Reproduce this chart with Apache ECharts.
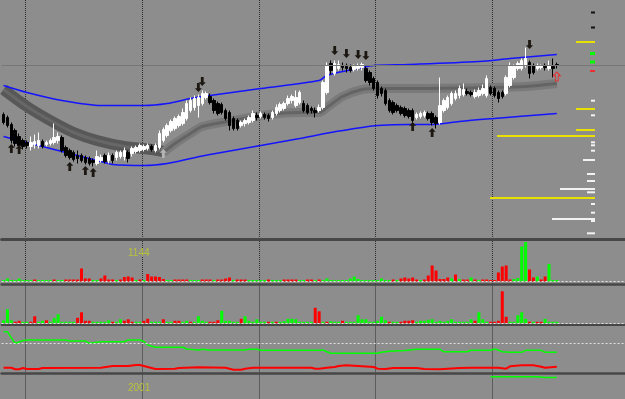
<!DOCTYPE html>
<html>
<head>
<meta charset="utf-8">
<script src="https://cdn.jsdelivr.net/npm/echarts@6.0.0/dist/echarts.min.js"></script>
<style>
  html, body { margin: 0; padding: 0; background: #8d8d8d; }
  #chart { width: 625px; height: 399px; }
</style>
</head>
<body>
<div id="chart"></div>
<script>
// bar slots on the time axis (the last ones are empty space on the right)
const bars = [];
for (let i = 0; i < 160; i++) bars.push(String(i));

// [open, close, low, high]
const candles = [
  [125,117,115,127],[122,114,112,124],[115,99,96,117],[109,96,93,111],[103,94,91,106],
  [99,93,90,101],[97,94,91,99],[93,97,89,103],[95,98,91,105],[94,99,91,107],
  [98,93,91,100],[95,97,93,99],[96,99,94,101],[97,102,95,116],[99,103,96,107],
  [102,89,87,104],[92,84,82,94],[89,82,80,91],[87,80,78,89],[84,81,76,89],
  [84,79,77,86],[82,77,75,84],[81,76,74,83],[79,77,73,81],[76,83,74,89],
  [79,82,77,85],[84,78,76,86],[79,84,76,87],[84,79,76,86],[82,87,79,89],
  [83,87,81,89],[83,89,79,92],[87,81,77,89],[86,91,83,93],[88,92,86,94],
  [89,94,87,96],[90,93,88,95],[91,94,89,96],[93,90,88,95],[89,94,87,96],
  [92,106,90,109],[99,110,97,112],[104,114,102,116],[109,118,107,120],[111,121,109,123],
  [114,123,112,125],[116,127,114,131],[121,136,119,139],[129,139,127,142],[132,141,129,144],
  [134,142,122,145],[136,146,134,149],[142,146,140,148],[143,137,135,146],[139,129,126,141],
  [136,126,124,138],[135,127,125,137],[129,121,119,131],[127,114,109,129],[121,111,109,123],
  [119,111,109,121],[114,117,112,119],[116,119,113,121],[117,122,115,124],[119,126,117,129],
  [124,122,119,127],[123,126,121,128],[125,122,120,127],[124,121,118,126],[122,127,120,129],
  [126,132,124,135],[129,135,127,137],[131,136,129,138],[136,141,134,144],[139,143,136,145],
  [134,142,132,149],[137,147,135,149],[136,129,127,139],[134,127,125,136],[131,129,126,133],
  [129,127,122,132],[129,132,127,135],[132,157,130,159],[147,174,145,177],[176,169,165,179],
  [166,176,164,179],[171,175,169,179],[174,172,169,177],[173,171,167,176],[172,169,167,175],
  [170,173,168,175],[171,174,169,176],[172,175,169,177],[171,159,157,173],[167,157,154,169],
  [161,151,149,163],[157,144,141,159],[151,146,143,153],[149,136,134,151],[139,129,127,141],
  [137,127,125,139],[134,129,127,136],[132,126,124,134],[131,124,122,133],[129,123,121,131],
  [129,119,115,131],[122,125,120,127],[123,126,121,128],[124,127,122,129],[126,121,119,128],
  [126,117,114,128],[122,116,111,124],[117,134,115,162],[129,139,127,141],[132,142,130,144],
  [136,146,134,148],[141,146,139,149],[144,151,141,154],[145,150,143,156],[148,146,144,151],
  [147,145,143,149],[143,147,141,150],[144,149,142,152],[146,151,144,155],[144,161,142,164],
  [152,146,144,154],[151,144,142,153],[147,141,137,149],[147,143,141,149],[146,162,144,164],
  [154,174,152,177],[162,173,160,175],[171,176,169,178],[171,179,169,181],[174,181,172,192],
  [177,166,161,179],[174,167,165,176],[171,174,169,176],[172,174,170,175],[173,172,169,176],
  [171,174,169,179],[173,171,162,181],[175,174,171,177]
];

// moving-average ribbon, [bar, price]
const ribbonOld = [[0,150],[6,133],[12,119],[18,107],[24,99],[31,93],[38,90],[41,88]];
const ribbonNew = [[41,87],[44,96],[48,106],[51,113],[59,119],[68,125],[76,127],[81,127],
  [83,132],[87,143],[92,150],[96,151],[104,151],[126,152],[134,153],[142,156]];

// envelope channel, [bar, price]
const upperBand = [[0,154],[6,147],[15,139],[25,134],[36,134],[42,136],[48,141],[53,144],
  [66,151],[81,159],[83,164],[92,172],[95,174],[104,175],[122,178],[130,181],[142,185]];
const lowerBand = [[0,103],[6,97],[15,88],[25,78],[28,75],[36,74],[42,76],[48,81],[53,85],
  [66,94],[76,101],[84,107],[92,112],[96,114],[104,115],[110,115],[117,118],[126,121],[142,126]];

// signal arrows, [bar, price]
const buySignals = [[2,91],[4,90],[17,73],[21,69],[23,67],[105,113],[110,107]];
const buyPending = [[41,86]];
const sellSignals = [[50,152],[51,158],[85,189],[88,186],[91,185],[93,184],[135,195]];
const lastSignal = [[142,163]];

// levels on the right, [length, price]
const yellowLevels = [[19,197.5],[19,130.5],[19,109.5],[98,103.5],[105,41.5]];
const whiteLevels = [[4,138.8],[4,124.2],[4,97.2],[4,94.2],[4,88.8],[12,79.5],[8,65.5],[8,58.5],
  [35,50.5],[8,47.2],[4,35.5],[4,26.8],[43,20.5],[4,18.5],[8,6.2]];
const blackLevels = [[4,227],[4,212]];
const greenLevels = [[5,186],[5,177.5]];
const redLevels = [[5,168.5]];

// histogram 1 (sign: + green, - red)
const hist1 = [
  1.5,3,1.5,1.5,3,1.5,1.5,1.5,-2,1.5,
  1.5,1.5,1.5,-2,1.5,1.5,-2,-2,-2,-2,
  -13,-3,-3,1.5,1.5,-3,-6,-2,-2,1.5,
  -2,-4.5,-5,-4,1.5,-2,1.5,-7.5,-5,-5,
  -4.5,-2.5,1.5,1.5,-2,-2,-2,-2,1.5,1.5,
  1.5,-2,-2,-2,1.5,-2,-2,-3,-4,1.5,
  -2,-2,-2,1.5,1.5,1.5,1.5,1.5,-2,1.5,
  1.5,1.5,-2,-2,-2,-2,1.5,1.5,-2,-2,
  1.5,-2,1.5,3,1.5,1.5,1.5,1.5,1.5,3,
  5,2.5,1.5,1.5,1.5,1.5,1.5,3,1.5,1.5,
  -2,1.5,-3,-4,-3,-4,-2,1.5,-2,-6,
  -16,-11,-2.5,-2.5,-4,3,-7,2.5,-2,-2,
  4,-2,1.5,-2,-2,-1.5,-1.5,-9,-15,-16,
  -2,2.5,3.5,35,39.5,-12,-4,5,-2,-5,
  17.5,1.5,1.5
];

// histogram 2
const hist2 = [
  3,14,3,-1.5,-2.5,1.5,1.5,-1.5,-7,1.5,
  2.5,-3,1.5,5,9,1.5,1.5,1.5,1.5,-5.5,
  -11,-2.5,-2.5,1.5,1.5,1.5,1.5,3,-1.5,1.5,
  4,-2.5,-4,-1.5,1.5,1.5,-2.5,-4.5,1.5,1.5,
  1.5,-4,1.5,1.5,-2.5,-2.5,1.5,2.5,-1.5,1.5,
  7,2.5,1.5,-1.5,-1.5,-3,12.5,2.5,2.5,1.5,
  1.5,-4.5,7,2.5,1.5,4,1.5,1.5,-1.5,1.5,
  -1.5,1.5,2,4.5,4.5,4,1.5,1.5,1.5,1.5,
  -15.5,-12,1.5,-1.5,2,1.5,1.5,-2.5,1.5,1.5,
  1.5,8,4,4,1.5,1.5,2.5,6.5,3,-1.5,
  1.5,1.5,-1.5,-2.5,-2.5,-3,1.5,2.5,2.5,3.5,
  4,1.5,2.5,1.5,2.5,4,1.5,1.5,1.5,1.5,
  4,-2.5,11,4,1.5,-1.5,-1.5,-2.5,-32,-6.5,
  1.5,1.5,8,11,4.5,-1.5,1.5,-1.5,-1.5,4.5,
  1.5,1.5,1.5
];

// oscillator lines, [bar, value]
const oscGreen = [[0,41.3],[1,41.3],[2,35],[3,29.7],[4,31],[5,32.5],[6,33],[16,33],[17,32],[21,32],
  [22,29.7],[23,30.2],[25,31.3],[31,31.3],[32,33],[35,33],[36,31.5],[37,28],[39,25.7],[46,25.7],
  [47,24],[50,23],[51,23.7],[53,23],[62,23],[63,23.7],[65,23.7],[66,22.7],[81,22.7],[82,23],
  [83,21.3],[84,19.7],[96,19.7],[97,20.7],[99,21.7],[103,22.5],[106,23.7],[112,23.7],[113,21.3],
  [119,21.3],[120,22.7],[125,22.7],[126,24],[127,23],[128,21.3],[130,20.7],[133,20.7],[134,22.7],
  [138,22.7],[139,20.7],[142,20.7]];
const oscRed = [[0,5.3],[2,5.3],[3,3.7],[4,3.7],[5,5],[6,4],[9,4],[10,5],[25,5.3],[28,7],[32,7],
  [34,8],[35,8],[37,6],[39,4],[44,4.3],[45,5],[50,5.7],[57,5.3],[58,4.3],[59,3.3],[61,3.3],
  [62,4.3],[64,5.3],[79,5.3],[80,4.3],[81,4.3],[83,5.3],[85,6],[86,7],[88,7.7],[89,7.5],[95,6],
  [96,4.3],[98,4],[100,5],[106,5],[108,4],[112,3.7],[117,5],[120,5.3],[127,5.3],[129,4.3],
  [130,6.7],[133,7.7],[136,7.7],[138,6.3],[139,5.3],[142,6.3]];
const lowerGreen = [[125,22.3],[137,22.3],[139,21.5],[142,21.5]];

const chart = echarts.init(document.getElementById('chart'));

function timeAxis(gi, sepWidth) {
  return {
    type: 'category', gridIndex: gi, data: bars, boundaryGap: true,
    axisLine: { show: sepWidth > 0, onZero: false, lineStyle: { color: '#474747', width: sepWidth } },
    axisTick: { show: false }, axisLabel: { show: false },
    splitLine: { show: true, interval: (i) => i % 30 === 6 && i < 150, lineStyle: { color: '#2e2e2e', type: 'dotted', width: 1 } }
  };
}

function levelShape(h) {
  return function (params, api) {
    const p = api.value(1);
    const a = api.coord([0, p]);
    const b = api.coord([api.value(0), p]);
    return {
      type: 'rect',
      shape: { x: Math.min(a[0], b[0]), y: a[1] - h / 2, width: Math.abs(a[0] - b[0]), height: h },
      style: { fill: api.visual('color') }
    };
  };
}

function histData(arr) {
  return arr.map(v => ({ value: Math.abs(v), itemStyle: { color: v > 0 ? '#00ff00' : '#ff0000' } }));
}

const dottedZero = (val) => ({
  silent: true, symbol: 'none', label: { show: false },
  lineStyle: { color: '#e2e2e2', type: [2, 2], width: 1 },
  data: [{ yAxis: val }]
});

const arrowPath = 'path://M5,0 L10,5 L7,5 L7,12 L3,12 L3,5 L0,5 Z';

const option = {
  backgroundColor: '#8d8d8d',
  animation: false,
  title: [
    { text: '1144', left: 128, top: 248, padding: 0, textStyle: { color: '#b8c23a', fontSize: 10, fontWeight: 'normal', fontFamily: 'Liberation Sans' } },
    { text: '2001', left: 128, top: 383, padding: 0, textStyle: { color: '#b8c23a', fontSize: 10, fontWeight: 'normal', fontFamily: 'Liberation Sans' } }
  ],
  grid: [
    { left: 1.6, width: 624, top: 0, height: 239.5 },
    { left: 1.6, width: 624, top: 241, height: 43 },
    { left: 1.6, width: 624, top: 285.5, height: 39.5 },
    { left: 1.6, width: 624, top: 326.5, height: 46.5 },
    { left: 1.6, width: 624, top: 374.5, height: 24.5 },
    { left: 470, width: 125, top: 0, height: 239.5 }
  ],
  xAxis: [
    timeAxis(0, 3), timeAxis(1, 2.5), timeAxis(2, 2), timeAxis(3, 2.5), timeAxis(4, 0),
    { type: 'value', gridIndex: 5, inverse: true, min: 0, max: 125, show: false }
  ],
  yAxis: [
    { type: 'value', gridIndex: 0, min: 0, max: 239.5, show: false },
    { type: 'value', gridIndex: 1, min: -2.5, max: 40.5, show: false },
    { type: 'value', gridIndex: 2, min: -1.7, max: 37.8, show: false },
    { type: 'value', gridIndex: 3, min: 0, max: 46.5, show: false },
    { type: 'value', gridIndex: 4, min: 0, max: 24.5, show: false },
    { type: 'value', gridIndex: 5, min: 0, max: 239.5, show: false }
  ],
  series: [
    { type: 'line', data: ribbonOld, smooth: 0.3, showSymbol: false, lineStyle: { color: '#585858', width: 11 }, z: 1 },
    { type: 'line', data: ribbonOld, smooth: 0.3, showSymbol: false, lineStyle: { color: '#676767', width: 3 }, z: 1 },
    { type: 'line', data: ribbonNew, smooth: 0.3, showSymbol: false, lineStyle: { color: '#7a7a7a', width: 9 }, z: 1 },
    { type: 'line', data: ribbonNew, smooth: 0.3, showSymbol: false, lineStyle: { color: '#646464', width: 3 }, z: 1 },
    { type: 'line', data: upperBand, smooth: 0.3, showSymbol: false, lineStyle: { color: '#1414ff', width: 1.5 }, z: 2 },
    { type: 'line', data: lowerBand, smooth: 0.3, showSymbol: false, lineStyle: { color: '#1414ff', width: 1.5 }, z: 2 },
    {
      type: 'candlestick', data: candles, barWidth: 3, z: 3,
      itemStyle: { color: '#ffffff', color0: '#000000', borderColor: '#ffffff', borderColor0: '#000000', borderWidth: 1 },
      markLine: {
        silent: true, symbol: 'none', label: { show: false },
        lineStyle: { color: '#777777', type: 'solid', width: 1 },
        data: [{ yAxis: candles[candles.length - 1][1] }]
      }
    },
    { type: 'scatter', data: buySignals, symbol: arrowPath, symbolSize: [7, 9], itemStyle: { color: '#1c1710', opacity: 1 }, z: 4 },
    { type: 'scatter', data: buyPending, symbol: arrowPath, symbolSize: [7, 9], itemStyle: { color: '#b4b4b4', opacity: 1 }, z: 4 },
    { type: 'scatter', data: sellSignals, symbol: arrowPath, symbolRotate: 180, symbolSize: [7, 9], itemStyle: { color: '#1c1710', opacity: 1 }, z: 4 },
    { type: 'scatter', data: lastSignal, symbol: arrowPath, symbolSize: [7, 9], itemStyle: { color: 'rgba(0,0,0,0)', borderColor: '#e83030', borderWidth: 1, opacity: 1 }, z: 4 },

    { type: 'custom', xAxisIndex: 5, yAxisIndex: 5, data: yellowLevels, renderItem: levelShape(2), itemStyle: { color: '#e8e000' }, z: 2 },
    { type: 'custom', xAxisIndex: 5, yAxisIndex: 5, data: whiteLevels, renderItem: levelShape(2), itemStyle: { color: '#f2f2f2' }, z: 2 },
    { type: 'custom', xAxisIndex: 5, yAxisIndex: 5, data: blackLevels, renderItem: levelShape(2), itemStyle: { color: '#111111' }, z: 2 },
    { type: 'custom', xAxisIndex: 5, yAxisIndex: 5, data: greenLevels, renderItem: levelShape(3), itemStyle: { color: '#00ff00' }, z: 2 },
    { type: 'custom', xAxisIndex: 5, yAxisIndex: 5, data: redLevels, renderItem: levelShape(2), itemStyle: { color: '#e83030' }, z: 2 },

    { type: 'bar', xAxisIndex: 1, yAxisIndex: 1, data: histData(hist1), barWidth: 3, markLine: dottedZero(0) },
    { type: 'bar', xAxisIndex: 2, yAxisIndex: 2, data: histData(hist2), barWidth: 3, markLine: dottedZero(0) },

    { type: 'line', xAxisIndex: 3, yAxisIndex: 3, data: oscGreen, showSymbol: false, lineStyle: { color: '#00ff00', width: 1.5 }, markLine: dottedZero(30) },
    { type: 'line', xAxisIndex: 3, yAxisIndex: 3, data: oscRed, showSymbol: false, lineStyle: { color: '#ff0000', width: 2 } },
    { type: 'line', xAxisIndex: 4, yAxisIndex: 4, data: lowerGreen, showSymbol: false, lineStyle: { color: '#00ff00', width: 1.5 } }
  ]
};

chart.setOption(option);
</script>
</body>
</html>
